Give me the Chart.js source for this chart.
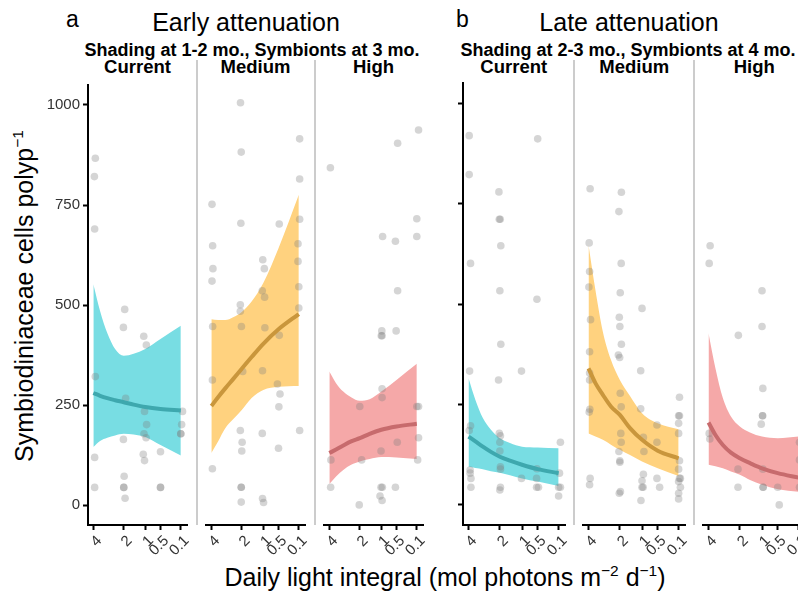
<!DOCTYPE html>
<html>
<head>
<meta charset="utf-8">
<script src="https://cdn.jsdelivr.net/npm/chart.js@4.4.1/dist/chart.umd.min.js"></script>
<style>
  html, body { margin: 0; padding: 0; background: #fff; }
  #fig {
    position: relative; width: 798px; height: 593px; overflow: hidden;
    font-family: "Liberation Sans", Arial, sans-serif; color: #000;
  }
  .txt { position: absolute; white-space: nowrap; line-height: 1; }
  .mid { transform: translateX(-50%); }
  .sub { font-weight: bold; font-size: 18px; top: 41px; }
  .strip { font-weight: bold; font-size: 18.5px; top: 58px; }
  .sep { position: absolute; top: 60px; height: 465px; width: 2px; background: #cccccc; }
  .sup { font-size: 0.62em; position: relative; top: -0.62em; }
  canvas { position: absolute; }
</style>
</head>
<body>
<div id="fig">
  <div class="txt" style="left:66px;top:8px;font-size:23px">a</div>
  <div class="txt mid" style="left:246px;top:10px;font-size:25px">Early attenuation</div>
  <div class="txt" style="left:456px;top:8px;font-size:23px">b</div>
  <div class="txt mid" style="left:629px;top:10px;font-size:25px">Late attenuation</div>

  <div class="txt mid sub" style="left:252px">Shading at 1-2 mo., Symbionts at 3 mo.</div>
  <div class="txt mid sub" style="left:628px">Shading at 2-3 mo., Symbionts at 4 mo.</div>

  <div class="sep" style="left:196px"></div>
  <div class="sep" style="left:314px"></div>
  <div class="sep" style="left:573px"></div>
  <div class="sep" style="left:693px"></div>

  <div class="txt" style="left:24px;top:296px;font-size:25px;transform:translate(-50%,-50%) rotate(-90deg)">Symbiodiniaceae cells polyp<span class="sup">−1</span></div>
  <div class="txt mid" style="left:445px;top:565px;font-size:25px">Daily light integral (mol photons m<span class="sup">−2</span> d<span class="sup">−1</span>)</div>
</div>

<script>
// tick labels
const dliTicks = [4, 2, 1, 0.5, 0.1];
const yTicks = [0, 250, 500, 750, 1000];
const stripNames = ["Current", "Medium", "High"];

// DLI values at which the fitted curve and its band were read
const fitDli = [4, 3.5, 3, 2.5, 2, 1.5, 1, 0.5, 0.1];

// a - early attenuation
const aCurrentFit = [280, 273, 267, 262, 257, 251, 245, 240, 236];
const aCurrentUpper = [552, 485, 430, 390, 373, 378, 390, 415, 448];
const aCurrentLower = [145, 160, 168, 174, 178, 176, 170, 150, 124];
const aCurrentPts = [
  [3.85, 867], [3.92, 821], [3.9, 690], [3.85, 321], [3.9, 119], [3.9, 44],
  [1.95, 489], [2.02, 444], [1.9, 267], [2.02, 164], [1.98, 72], [2.0, 44], [2.0, 44], [1.93, 17],
  [1.06, 422], [0.96, 400], [1.03, 234], [0.95, 201], [1.05, 178], [0.97, 168], [1.08, 127], [1.03, 111],
  [0.5, 133], [0.5, 44], [0.5, 44],
  [0.08, 234], [0.09, 201], [0.1, 178], [0.1, 178],
];

const aMediumFit = [246, 268, 290, 313, 339, 368, 401, 437, 475];
const aMediumUpper = [462, 460, 460, 467, 480, 506, 552, 639, 772];
const aMediumLower = [129, 158, 191, 213, 236, 266, 286, 294, 296];
const aMediumPts = [
  [3.95, 748], [3.9, 645], [3.88, 588], [3.95, 557], [3.9, 444], [3.92, 311], [3.92, 90],
  [2.07, 1001], [2.03, 878], [2.05, 701], [2.08, 498], [2.08, 482], [2.02, 444], [1.95, 332],
  [2.08, 185], [1.98, 156], [2.0, 134], [2.03, 44], [2.03, 44], [2.03, 7],
  [1.02, 610], [0.96, 588], [1.04, 533], [0.95, 517], [0.94, 441], [1.03, 334], [1.04, 178], [1.03, 16], [0.99, 6],
  [0.48, 699], [0.48, 422], [0.53, 301], [0.46, 276], [0.49, 244], [0.5, 141],
  [0.09, 911], [0.09, 811], [0.09, 711], [0.11, 650], [0.11, 606], [0.1, 543], [0.1, 490], [0.09, 185],
];

const aHighFit = [129, 138, 148, 158, 166, 177, 187, 195, 202];
const aHighUpper = [332, 303, 282, 268, 259, 263, 282, 311, 351];
const aHighLower = [52, 71, 87, 100, 108, 114, 119, 118, 114];
const aHighPts = [
  [3.92, 839], [3.88, 112], [3.9, 44],
  [2.0, 245], [1.9, 112], [2.03, 0],
  [0.95, 668], [0.98, 433], [1.0, 421], [0.97, 421], [0.97, 289], [0.97, 267], [1.01, 134],
  [1.01, 44], [0.96, 44], [1.05, 22], [0.97, 11],
  [0.47, 900], [0.53, 656], [0.47, 533], [0.51, 433], [0.48, 156], [0.53, 44],
  [0.08, 933], [0.1, 712], [0.1, 668], [0.1, 245], [0.08, 245], [0.08, 167], [0.09, 112],
];

// b - late attenuation
const bCurrentFit = [170, 158, 145, 132, 120, 110, 100, 89, 79];
const bCurrentUpper = [315, 261, 216, 187, 166, 154, 145, 143, 141];
const bCurrentLower = [95, 92, 89, 84, 80, 74, 66, 58, 47];
const bCurrentPts = [
  [3.95, 919], [3.95, 822], [3.85, 601], [3.92, 333], [3.85, 197], [3.95, 185], [3.88, 87], [3.88, 79], [3.82, 66], [3.82, 44],
  [2.05, 779], [2.03, 711], [1.98, 711], [1.95, 645], [2.0, 533], [1.95, 400], [2.07, 311], [2.03, 178],
  [1.97, 172], [2.0, 156], [2.0, 134], [1.97, 95], [1.97, 89], [1.97, 44], [2.0, 37],
  [1.02, 333], [1.02, 66],
  [0.5, 911], [0.52, 512], [0.52, 90], [0.53, 66], [0.53, 44], [0.48, 44],
  [0.08, 156], [0.09, 79], [0.1, 44], [0.08, 44], [0.1, 22],
];

const bMediumFit = [340, 303, 274, 245, 224, 191, 162, 135, 116];
const bMediumUpper = [647, 535, 431, 361, 311, 271, 228, 203, 188];
const bMediumLower = [178, 170, 162, 150, 137, 124, 108, 91, 72];
const bMediumPts = [
  [3.88, 787], [3.95, 652], [3.92, 581], [3.97, 542], [3.85, 461], [3.92, 381], [3.92, 328], [3.92, 311],
  [3.9, 238], [3.95, 231], [3.88, 66], [3.92, 50],
  [1.92, 778], [2.05, 730], [1.93, 601], [1.98, 528], [2.03, 467], [2.0, 444], [1.92, 400], [2.08, 373],
  [2.01, 367], [1.98, 278], [1.93, 244], [1.95, 178], [1.93, 156], [2.05, 133], [2.0, 110], [2.0, 106],
  [1.97, 33], [2.03, 29],
  [1.0, 489], [1.05, 334], [1.05, 239], [0.95, 168], [0.93, 133], [0.95, 76], [1.0, 60], [1.0, 44], [0.96, 44], [1.04, 11],
  [0.52, 199], [0.52, 156], [0.52, 66], [0.45, 44],
  [0.09, 268], [0.1, 222], [0.09, 222], [0.1, 203], [0.1, 178], [0.09, 110], [0.1, 89], [0.09, 66],
  [0.08, 66], [0.1, 58], [0.08, 44], [0.1, 29], [0.1, 15],
];

const bHighFit = [205, 174, 149, 130, 116, 104, 91, 79, 68];
const bHighUpper = [427, 340, 266, 220, 195, 180, 170, 166, 170];
const bHighLower = [100, 96, 91, 83, 75, 62, 50, 39, 33];
const bHighPts = [
  [3.88, 645], [3.95, 601], [3.95, 178], [3.9, 164],
  [2.08, 422], [2.1, 89], [2.1, 44],
  [1.0, 533], [1.0, 444], [0.97, 290], [0.98, 222], [0.98, 222], [1.03, 201], [0.97, 89], [0.96, 44], [0.96, 44],
  [0.5, 44], [0.46, 0],
  [0.09, 156], [0.09, 112], [0.09, 44],
];

// colours
const CYAN = { band: "#78dde3", line: "#3ea8ae" };
const ORANGE = { band: "#ffd27f", line: "#c9963c" };
const RED = { band: "#f5a8a8", line: "#c76b6d" };

// layout (px on the page)
const PLOT_TOP = 83;
const PLOT_H = 442;
const AXIS_W = 50;
const PAD_T = 10;
const PAD_R = 20;
const XAXIS_H = 45;
const FONT = '"Liberation Sans", Arial, sans-serif';

// x axis uses a reversed square-root scale
const X_MIN = 0.197;
const X_MAX = 2.103;

const panels = [
  { left: 88, width: 99, yAxis: true, yLabels: true, col: CYAN, fit: aCurrentFit, up: aCurrentUpper, lo: aCurrentLower, pts: aCurrentPts, name: stripNames[0] },
  { left: 206, width: 99, yAxis: false, yLabels: false, col: ORANGE, fit: aMediumFit, up: aMediumUpper, lo: aMediumLower, pts: aMediumPts, name: stripNames[1] },
  { left: 324, width: 99, yAxis: false, yLabels: false, col: RED, fit: aHighFit, up: aHighUpper, lo: aHighLower, pts: aHighPts, name: stripNames[2] },
  { left: 462.5, width: 102.5, yAxis: true, yLabels: false, col: CYAN, fit: bCurrentFit, up: bCurrentUpper, lo: bCurrentLower, pts: bCurrentPts, name: stripNames[0] },
  { left: 583, width: 102.5, yAxis: false, yLabels: false, col: ORANGE, fit: bMediumFit, up: bMediumUpper, lo: bMediumLower, pts: bMediumPts, name: stripNames[1] },
  { left: 703, width: 102.5, yAxis: false, yLabels: false, col: RED, fit: bHighFit, up: bHighUpper, lo: bHighLower, pts: bHighPts, name: stripNames[2] },
];

Chart.defaults.font.family = FONT;

const fig = document.getElementById("fig");

function toXY(d, y) {
  return { x: Math.sqrt(d), y: y };
}

function drawPanel(p) {
  // strip label
  const strip = document.createElement("div");
  strip.className = "txt mid strip";
  strip.style.left = p.left + p.width / 2 + "px";
  strip.textContent = p.name;
  fig.appendChild(strip);

  const canvas = document.createElement("canvas");
  canvas.width = AXIS_W + p.width + PAD_R;
  canvas.height = PAD_T + PLOT_H + XAXIS_H;
  canvas.style.left = p.left - AXIS_W + "px";
  canvas.style.top = PLOT_TOP - PAD_T + "px";
  fig.appendChild(canvas);

  const curve = {
    showLine: true,
    pointRadius: 0,
    cubicInterpolationMode: "monotone",
    clip: false,
  };

  new Chart(canvas, {
    type: "scatter",
    data: {
      datasets: [
        {
          ...curve,
          data: fitDli.map((d, i) => toXY(d, p.fit[i])),
          borderColor: p.col.line,
          borderWidth: 4,
          order: 0,
        },
        {
          data: p.pts.map(([d, y]) => toXY(d, y)),
          pointRadius: 3.8,
          pointBackgroundColor: "rgba(128,128,128,0.33)",
          pointBorderWidth: 0,
          clip: false,
          order: 1,
        },
        {
          ...curve,
          data: fitDli.map((d, i) => toXY(d, p.up[i])),
          borderWidth: 0,
          backgroundColor: p.col.band,
          fill: "+1",
          order: 2,
        },
        {
          ...curve,
          data: fitDli.map((d, i) => toXY(d, p.lo[i])),
          borderWidth: 0,
          fill: false,
          order: 3,
        },
      ],
    },

    options: {
      responsive: false,
      animation: false,
      events: [],

      layout: {
        autoPadding: false,
        padding: { top: PAD_T, right: PAD_R, left: 0, bottom: 0 },
      },

      plugins: {
        legend: { display: false },
        tooltip: { enabled: false },
      },

      scales: {
        x: {
          type: "linear",
          reverse: true,
          min: X_MIN,
          max: X_MAX,
          afterBuildTicks: (s) => {
            s.ticks = dliTicks.map((d) => ({ value: Math.sqrt(d) }));
          },
          afterFit: (s) => {
            s.height = XAXIS_H;
          },
          border: { display: true, color: "#000", width: 2 },
          grid: {
            display: true,
            drawOnChartArea: false,
            tickLength: 5,
            tickWidth: 2,
            tickColor: "#000",
          },
          ticks: {
            autoSkip: false,
            minRotation: 45,
            maxRotation: 45,
            labelOffset: 6,
            padding: 2,
            color: "#333",
            font: { size: 15 },
            callback: (v) => String(Math.round(v * v * 10) / 10),
          },
        },

        y: {
          type: "linear",
          min: -50,
          max: 1050,
          afterBuildTicks: (s) => {
            s.ticks = yTicks.map((v) => ({ value: v }));
          },
          afterFit: (s) => {
            s.width = AXIS_W;
          },
          border: { display: p.yAxis, color: "#000", width: 2 },
          grid: {
            display: p.yAxis,
            drawOnChartArea: false,
            tickLength: 5,
            tickWidth: 2,
            tickColor: "#000",
          },
          ticks: {
            display: p.yLabels,
            padding: 3,
            color: "#333",
            font: { size: 15 },
            callback: (v) => String(v),
          },
        },
      },
    },
  });
}

panels.forEach(drawPanel);
</script>
</body>
</html>
